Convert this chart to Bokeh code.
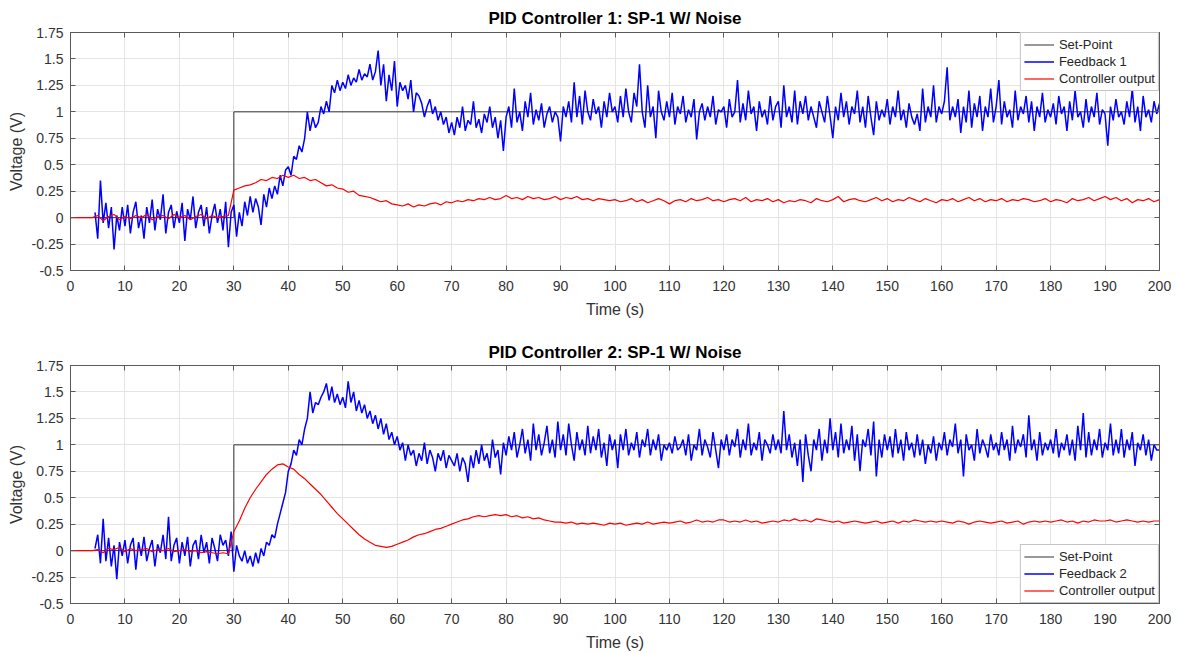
import numpy as np
from bokeh.plotting import figure
from bokeh.models import Range1d, FixedTicker, LinearAxis
from bokeh.layouts import column
from bokeh.embed import file_html
from bokeh.resources import INLINE

# ---------------- data ----------------
setpoint_time = [0, 30, 30, 200]
setpoint_value = [0, 0, 1, 1]

# Feedback 1, sampled every 0.5 s from 4.5 s to 200 s
feedback1 = [
    0.05, -0.2, 0.35, -0.05, 0.14, -0.1, 0.1, -0.3, 0.02, -0.12, 0.1,
    -0.08, 0.12, -0.15, 0.05, 0.15, -0.1, 0.02, -0.2, 0.1, -0.05, 0.17, -0.12, 0.08, -0.02, 0.22, -0.15, 0.05, 0.12, -0.1, 0.06,
    -0.05, 0.14, -0.22, 0.08, -0.02, 0.2, -0.1, 0.05, 0.12, -0.08, 0.1, -0.15, 0.02, 0.13, -0.05, 0.08, -0.12, 0.15, -0.28, 0.05,
    0.12, -0.18, 0.05, -0.08, 0.15, 0.02, 0.2, 0.05, 0.18, 0.1, -0.07, 0.22, 0.1, 0.28, 0.18, 0.3, 0.22, 0.4, 0.3, 0.45,
    0.48, 0.4, 0.58, 0.55, 0.68, 0.62, 0.75, 1.0, 0.82, 0.95, 0.85, 0.9, 1.05, 0.98, 1.1, 1.0, 1.25, 1.18, 1.3, 1.2,
    1.28, 1.22, 1.35, 1.25, 1.32, 1.28, 1.4, 1.3, 1.36, 1.33, 1.45, 1.3, 1.38, 1.58, 1.25, 1.45, 1.1, 1.35, 1.2, 1.48,
    1.05, 1.28, 1.2, 1.25, 1.12, 1.3, 1.0, 1.18, 1.15, 1.08, 0.95, 1.05, 1.12, 0.98, 1.05, 0.92, 1.0, 0.88, 0.95, 0.8,
    0.9, 0.78, 0.95, 0.85, 1.05, 0.82, 0.92, 0.88, 1.1, 0.85, 0.93, 0.8, 0.98, 0.9, 1.05, 0.85, 0.95, 0.75, 0.92, 0.63,
    0.95, 1.05, 0.85, 1.22, 0.9, 1.0, 0.82, 1.1, 0.95, 1.18, 0.88, 1.02, 0.92, 1.08, 0.85, 0.98, 1.05, 0.9, 1.0, 0.95,
    0.72, 1.05, 0.95, 1.1, 0.9, 1.28, 0.95, 1.15, 0.88, 1.2, 1.0, 0.92, 1.12, 0.98, 1.05, 0.85, 1.1, 0.95, 1.18, 1.0,
    1.05, 0.9, 1.15, 0.95, 1.22, 1.0, 0.9, 1.18, 1.05, 1.45, 1.0, 0.85, 1.25, 0.95, 1.05, 0.75, 1.2, 1.0, 0.92, 1.1,
    0.95, 1.18, 0.88, 1.05, 0.98, 1.15, 0.9, 1.02, 0.95, 1.12, 0.74, 1.0, 1.08, 0.92, 1.05, 0.95, 1.15, 0.88, 1.02, 1.0,
    1.05, 0.85, 1.12, 0.95, 1.0, 1.3, 0.9, 1.08, 0.92, 1.2, 0.98, 1.05, 0.82, 1.1, 0.95, 1.02, 0.88, 1.15, 0.92, 1.05,
    1.1, 0.85, 1.25, 0.95, 1.05, 0.9, 1.2, 0.88, 1.1, 0.98, 1.15, 0.92, 1.05, 0.95, 0.85, 1.1, 1.0, 0.9, 1.15, 0.96,
    0.75, 1.05, 0.92, 1.18, 0.95, 1.1, 0.88, 1.05, 0.98, 1.2, 0.9, 1.05, 0.85, 1.15, 0.95, 0.78, 1.1, 0.92, 1.02, 0.95,
    1.12, 0.88, 1.05, 0.95, 1.2, 0.92, 1.02, 0.85, 1.08, 0.95, 0.88, 0.98, 0.82, 1.22, 0.9, 1.05, 0.95, 1.25, 0.9, 1.05,
    0.98, 1.1, 1.42, 0.92, 1.05, 0.95, 1.12, 0.8, 1.05, 0.9, 1.2, 0.85, 1.08, 0.95, 1.15, 0.82, 1.05, 0.95, 1.22, 0.9,
    1.05, 1.3, 0.88, 1.1, 0.95, 1.02, 0.85, 1.2, 0.92, 1.05, 0.98, 1.15, 0.9, 1.1, 0.82, 1.05, 0.95, 1.18, 0.9, 1.02,
    0.95, 1.08, 0.88, 1.15, 0.98, 1.05, 0.82, 1.1, 0.92, 1.2, 0.95, 1.0, 0.85, 1.12, 0.9, 1.05, 0.95, 1.18, 0.88, 1.02,
    0.98, 0.68, 1.05, 0.92, 1.12, 0.95, 1.0, 0.88, 1.1, 0.95, 1.22, 0.9, 1.05, 0.82, 1.15, 0.95, 1.02, 0.9, 1.1, 0.98,
    1.08,
]

# Controller output 1, sampled every 1 s from 0 s to 200 s
controller1 = [
    0, 0, 0, 0, 0,
    0.02, -0.03, 0.01, 0.03, -0.02, 0.01, -0.01, 0.02, 0.0, 0.03, -0.02, 0.01, 0.02, -0.01, 0.03, 0.0, 0.02, -0.02, 0.01, 0.03, -0.01, 0.02, 0.0, 0.01, 0.02,
    0.26, 0.28, 0.3, 0.31, 0.33, 0.36, 0.35, 0.38, 0.37, 0.4,
    0.38, 0.4, 0.37, 0.38, 0.35, 0.36, 0.33, 0.3, 0.31, 0.28,
    0.27, 0.24, 0.25, 0.21, 0.2, 0.19, 0.17, 0.15, 0.16, 0.13,
    0.12, 0.11, 0.13, 0.1, 0.12, 0.11, 0.13, 0.14, 0.12, 0.15,
    0.14, 0.16, 0.15, 0.17, 0.16, 0.18, 0.17, 0.19, 0.17, 0.18,
    0.21, 0.18, 0.19, 0.17, 0.2, 0.18, 0.19, 0.17, 0.18, 0.2,
    0.17, 0.19, 0.18, 0.2, 0.17, 0.18, 0.16, 0.18, 0.17, 0.16,
    0.17, 0.15, 0.16, 0.18, 0.15, 0.17, 0.14, 0.16, 0.18, 0.16,
    0.13, 0.16, 0.17, 0.15, 0.18, 0.16, 0.17, 0.19, 0.16, 0.17,
    0.15, 0.17, 0.18, 0.16, 0.19, 0.15, 0.17, 0.16, 0.18, 0.15,
    0.17, 0.14, 0.16, 0.15, 0.17, 0.16, 0.14, 0.18, 0.16, 0.15,
    0.17, 0.2, 0.15, 0.17, 0.18, 0.16, 0.15, 0.17, 0.19, 0.16,
    0.18, 0.15, 0.17, 0.16, 0.19, 0.17, 0.15, 0.18, 0.16, 0.14,
    0.17, 0.16, 0.18, 0.15, 0.17, 0.19, 0.16, 0.18, 0.15, 0.17,
    0.16, 0.18, 0.15, 0.17, 0.16, 0.18, 0.17, 0.15, 0.16, 0.18,
    0.15, 0.17, 0.16, 0.14, 0.18, 0.16, 0.17, 0.19, 0.16, 0.18,
    0.2, 0.17, 0.19, 0.16, 0.18, 0.14, 0.17, 0.16, 0.18, 0.15,
    0.17,
]

# Feedback 2, sampled every 0.5 s from 4.5 s to 200 s
feedback2 = [
    0.02, 0.15, -0.12, 0.3, -0.1, 0.12, -0.15, 0.05, -0.27, 0.08, -0.05,
    0.1, -0.12, 0.05, 0.12, -0.18, 0.08, -0.05, 0.13, -0.1, 0.02, 0.1, -0.15, 0.06, -0.02, 0.15, -0.08, 0.32, -0.1, 0.05, 0.12,
    -0.12, 0.08, -0.05, 0.13, -0.15, 0.05, 0.1, -0.08, 0.15, -0.02, 0.08, -0.12, 0.12, 0.02, -0.1, 0.15, 0.05, 0.1, -0.05, 0.18,
    -0.2, 0.05, -0.05, -0.1, 0.0, -0.12, -0.05, -0.15, -0.02, -0.12, 0.02, -0.05, 0.08, 0.05, 0.15, 0.12, 0.25, 0.35, 0.45, 0.55,
    0.75, 0.82, 0.95, 0.9, 1.05, 1.0, 1.15, 1.25, 1.5, 1.3, 1.4, 1.38, 1.45, 1.5, 1.58, 1.42, 1.55, 1.4, 1.48, 1.38,
    1.45, 1.35, 1.6, 1.4, 1.5, 1.32, 1.42, 1.3, 1.38, 1.25, 1.32, 1.2, 1.28, 1.15, 1.25, 1.1, 1.2, 1.05, 1.12, 1.0,
    1.08, 0.95, 1.02, 0.85, 1.0, 0.9, 0.95, 0.8, 0.92, 0.85, 1.02, 0.82, 0.95, 0.88, 0.75, 0.92, 0.85, 0.95, 0.78, 0.9,
    0.85, 0.8, 0.92, 0.75, 0.88, 0.82, 0.65, 0.9, 0.78, 0.95, 0.82, 1.0, 0.85, 0.92, 0.78, 1.05, 0.88, 0.95, 0.72, 1.02,
    0.9, 1.08, 0.95, 1.12, 0.88, 1.0, 1.15, 0.92, 1.05, 0.85, 1.2, 0.95, 1.1, 0.9, 1.02, 1.18, 0.92, 1.05, 0.88, 1.22,
    0.95, 1.1, 0.9, 1.2, 1.0, 0.85, 1.12, 0.95, 1.05, 0.9, 1.18, 0.92, 1.08, 0.95, 1.15, 0.88, 1.02, 0.8, 1.1, 0.95,
    1.05, 0.78, 1.1, 0.95, 1.15, 0.9, 1.02, 0.95, 1.12, 0.88, 1.05, 0.98, 1.15, 0.9, 1.05, 0.95, 1.1, 0.85, 1.0, 0.95,
    1.02, 0.92, 1.08, 0.95, 0.98, 1.05, 0.9, 1.1, 0.85, 1.0, 0.95, 1.15, 0.9, 1.05, 0.98, 0.88, 1.12, 0.95, 0.78, 1.05,
    0.95, 1.1, 0.9, 1.05, 0.98, 1.15, 0.88, 1.05, 0.95, 1.2, 0.9, 1.02, 0.95, 1.12, 0.85, 1.05, 1.0, 0.92, 1.1, 0.95,
    1.05, 0.92, 1.32, 0.95, 1.1, 0.88, 1.02, 0.8, 1.05, 0.65, 1.1, 0.9, 0.75, 1.05, 0.95, 1.15, 0.85, 1.05, 0.92, 1.25,
    0.95, 1.12, 0.88, 1.2, 0.92, 1.05, 0.95, 1.18, 0.85, 1.1, 0.75, 1.05, 0.98, 1.15, 0.9, 1.22, 0.7, 1.05, 0.88, 1.1,
    0.95, 1.08, 0.88, 1.15, 0.92, 1.05, 0.85, 1.12, 0.95, 1.02, 0.88, 1.1, 0.9, 1.05, 0.82, 1.0, 0.92, 1.08, 0.85, 1.02,
    0.95, 1.12, 0.9, 1.05, 0.98, 1.2, 0.92, 1.05, 0.7, 1.1, 0.95, 1.0, 0.85, 1.15, 0.92, 1.05, 0.98, 0.88, 1.1, 0.95,
    1.02, 0.9, 1.12, 0.95, 1.05, 0.85, 1.18, 0.92, 1.05, 0.98, 1.1, 0.88, 1.28, 0.95, 1.05, 0.85, 1.12, 0.9, 1.02, 0.95,
    1.05, 0.92, 1.15, 0.88, 1.02, 0.95, 1.1, 0.9, 1.05, 0.85, 1.18, 0.95, 1.3, 0.88, 1.12, 0.9, 1.05, 0.95, 1.15, 0.88,
    1.02, 0.95, 1.2, 0.9, 1.05, 0.92, 1.15, 0.88, 1.05, 0.95, 1.12, 0.8, 1.02, 0.95, 1.1, 0.9, 1.05, 0.85, 1.0, 0.95,
    0.95,
]

# Controller output 2, sampled every 1 s from 0 s to 200 s
controller2 = [
    0, 0, 0, 0, 0,
    0.01, -0.02, 0.02, 0.01, 0.03, -0.01, 0.02, 0.0, 0.01, 0.02, -0.01, 0.01, 0.0, 0.02, -0.01, 0.0, 0.01, -0.01, 0.0, -0.02, -0.01, -0.02, -0.03, -0.02, -0.03,
    0.18, 0.28, 0.4, 0.5, 0.58, 0.65, 0.72, 0.77, 0.81, 0.82,
    0.79, 0.77, 0.72, 0.68, 0.63, 0.58, 0.53, 0.47, 0.41, 0.35,
    0.3, 0.25, 0.2, 0.15, 0.11, 0.08, 0.05, 0.04, 0.03, 0.04,
    0.06, 0.08, 0.1, 0.13, 0.15, 0.16, 0.18, 0.2, 0.21, 0.23,
    0.25, 0.27, 0.29, 0.3, 0.32, 0.33, 0.32, 0.33, 0.34, 0.33,
    0.34, 0.32, 0.33, 0.31, 0.32, 0.3, 0.31, 0.29, 0.28, 0.27,
    0.27, 0.26, 0.27, 0.25, 0.26, 0.25, 0.26, 0.25, 0.24, 0.26,
    0.25, 0.26, 0.24, 0.25, 0.26, 0.25, 0.27, 0.25, 0.26, 0.27,
    0.26, 0.27, 0.28, 0.26, 0.27, 0.29, 0.27, 0.28, 0.27, 0.29,
    0.29, 0.27, 0.28, 0.27, 0.29, 0.27, 0.28, 0.26, 0.27, 0.28,
    0.27, 0.29, 0.28, 0.3, 0.28, 0.29, 0.27, 0.3, 0.29, 0.28,
    0.27, 0.28, 0.26, 0.27, 0.28, 0.27, 0.26, 0.27, 0.28, 0.26,
    0.27, 0.28, 0.26, 0.28, 0.27, 0.29, 0.28, 0.27, 0.28, 0.27,
    0.28, 0.27, 0.26, 0.28, 0.27, 0.25, 0.27, 0.28, 0.27, 0.26,
    0.27, 0.28, 0.26, 0.27, 0.28, 0.25, 0.27, 0.28, 0.27, 0.28,
    0.27, 0.28, 0.29, 0.27, 0.28, 0.26, 0.28, 0.27, 0.29, 0.28,
    0.28, 0.29, 0.27, 0.28, 0.29, 0.28, 0.27, 0.28, 0.27, 0.28,
    0.28,
]

x_ticks = list(range(0, 201, 10))
y_ticks = [-0.5, -0.25, 0, 0.25, 0.5, 0.75, 1, 1.25, 1.5, 1.75]
y_tick_labels = ["-0.5", "-0.25", "0", "0.25", "0.5", "0.75", "1", "1.25", "1.5", "1.75"]

titles = ["PID Controller 1: SP-1 W/ Noise", "PID Controller 2: SP-1 W/ Noise"]
feedback_labels = ["Feedback 1", "Feedback 2"]

FONT = "Liberation Sans"
TXT = "#333333"
AX = "#5a5a5a"


def style_axis(ax, show_labels):
    ax.major_tick_in = 5
    ax.major_tick_out = 0
    ax.minor_tick_line_color = None
    ax.axis_line_color = AX
    ax.major_tick_line_color = AX
    ax.major_label_text_font = FONT
    if show_labels:
        ax.major_label_text_font_size = "14px"
        ax.major_label_text_color = TXT
    else:
        ax.major_label_text_font_size = "1px"
        ax.major_label_text_color = None
        ax.major_label_standoff = 0


def make_panel(idx, fb, co, legend_loc, height, top_b, bottom_b, title_standoff):
    p = figure(width=1177, height=height, output_backend="svg", toolbar_location=None,
               x_range=Range1d(0, 200), y_range=Range1d(-0.5, 1.75),
               min_border_left=70, min_border_right=18,
               min_border_top=top_b, min_border_bottom=bottom_b)
    p.title.text = titles[idx]
    p.title.align = "center"
    p.title.text_font = FONT
    p.title.text_font_size = "17px"
    p.title.text_font_style = "bold"
    p.title.text_color = "#000000"
    p.title.standoff = title_standoff
    p.outline_line_color = AX
    p.outline_line_width = 1
    p.background_fill_color = "white"
    p.border_fill_color = "white"

    ylabels = {float(v): s for v, s in zip(y_ticks, y_tick_labels)}
    p.xaxis.ticker = FixedTicker(ticks=x_ticks)
    p.yaxis.ticker = FixedTicker(ticks=y_ticks)
    p.yaxis.major_label_overrides = ylabels
    style_axis(p.xaxis[0], True)
    style_axis(p.yaxis[0], True)
    p.xaxis.major_label_standoff = 10
    p.yaxis.major_label_standoff = 7
    p.xaxis.axis_label = "Time (s)"
    p.yaxis.axis_label = "Voltage (V)"
    for ax in (p.xaxis[0], p.yaxis[0]):
        ax.axis_label_text_font = FONT
        ax.axis_label_text_font_size = "16px"
        ax.axis_label_text_font_style = "normal"
        ax.axis_label_text_color = TXT
    p.xaxis.axis_label_standoff = 7
    p.yaxis.axis_label_standoff = 4

    top_ax = LinearAxis(ticker=FixedTicker(ticks=x_ticks))
    right_ax = LinearAxis(ticker=FixedTicker(ticks=y_ticks))
    style_axis(top_ax, False)
    style_axis(right_ax, False)
    p.add_layout(top_ax, "above")
    p.add_layout(right_ax, "right")

    p.xgrid.grid_line_color = "#e4e4e4"
    p.ygrid.grid_line_color = "#e4e4e4"
    p.xgrid.ticker = FixedTicker(ticks=x_ticks)
    p.ygrid.ticker = FixedTicker(ticks=y_ticks)

    fb_time = np.linspace(4.5, 200, len(fb))
    co_time = np.linspace(0, 200, len(co))

    p.line(setpoint_time, setpoint_value, line_color="#333333", line_width=1,
           legend_label="Set-Point")
    p.line(fb_time, fb, line_color="#0000ff", line_width=1.5,
           legend_label=feedback_labels[idx])
    p.line(co_time, co, line_color="#ff0000", line_width=1.2,
           legend_label="Controller output")

    legend = p.legend[0]
    legend.location = legend_loc
    legend.margin = 0
    legend.padding = 3
    legend.spacing = 0
    legend.label_height = 17
    legend.glyph_height = 17
    legend.glyph_width = 30
    legend.label_standoff = 5
    legend.label_text_font = FONT
    legend.label_text_font_size = "13px"
    legend.label_text_color = "#262626"
    legend.border_line_color = "#8a8a8a"
    legend.border_line_width = 1
    legend.background_fill_color = "white"
    legend.background_fill_alpha = 1
    return p


p1 = make_panel(0, feedback1, controller1, "top_right", 327, 32, 57, 10)
p2 = make_panel(1, feedback2, controller2, "bottom_right", 326, 38, 48, 8)

layout = column(p1, p2)
open("out.html", "w").write(file_html(layout, INLINE))
